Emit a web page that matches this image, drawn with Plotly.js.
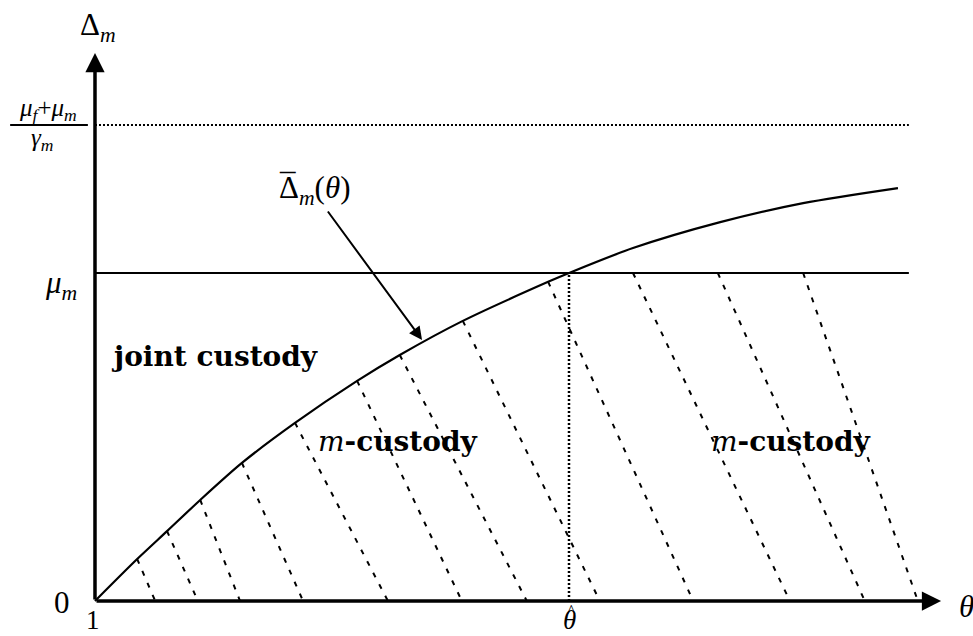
<!DOCTYPE html>
<html>
<head>
<meta charset="utf-8">
<script src="https://cdn.plot.ly/plotly-3.0.1.min.js"></script>
<style>html,body{margin:0;padding:0;background:#fff;}#chart{width:973px;height:636px;}</style>
</head>
<body>
<div id="chart"></div>
<script>
// ---- data (theta on x, Delta_m on y; theta-hat = 2, mu_m = 1) ----
const thetaOrigin = 1;
const thetaHat = 2;
const muM = 1;
const upperBound = 1.451;          // (mu_f + mu_m) / gamma_m
const thetaEnd = 2.717;            // right end of the horizontal lines
const xAxisTip = 2.785;
const yAxisTip = 1.671;

// curve  Delta-bar_m(theta)
const curveTheta = [1.000, 1.089, 1.152, 1.222, 1.310, 1.422, 1.553, 1.643, 1.776, 1.956, 2.000, 2.135, 2.319, 2.494, 2.694];
const curveDelta = [0.000, 0.128, 0.213, 0.308, 0.421, 0.543, 0.671, 0.750, 0.854, 0.973, 1.000, 1.076, 1.155, 1.213, 1.259];

// hatching lines of the m-custody region
const hatchTopTheta    = [1.089, 1.152, 1.222, 1.310, 1.422, 1.553, 1.643, 1.776, 1.956, 2.135, 2.314, 2.494];
const hatchTopDelta    = [0.128, 0.213, 0.308, 0.421, 0.543, 0.671, 0.750, 0.854, 0.973, 1.000, 1.000, 1.000];
const hatchBottomTheta = [1.127, 1.217, 1.306, 1.439, 1.618, 1.774, 1.911, 2.065, 2.262, 2.466, 2.624, 2.736];

// label texts
const labelJoint = '<b>joint custody</b>';
const labelM = '<i>m</i><b>-custody</b>';
const labelCurve = 'Δ<sub><i>m</i></sub>(<i>θ</i>)';

const math = {family: 'Liberation Serif', size: 31, color: '#000'};
const low = {family: 'Liberation Serif', size: 27, color: '#000'};
const small = {family: 'Liberation Serif', size: 25, color: '#000'};
const hat = {family: 'Liberation Serif', size: 18, color: '#000'};
const bold = {family: 'DejaVu Serif', size: 28, color: '#000'};

const traces = [];
// hatch lines
for (let i = 0; i < hatchTopTheta.length; i++) {
  traces.push({x: [hatchTopTheta[i], hatchBottomTheta[i]], y: [hatchTopDelta[i], 0],
    mode: 'lines', line: {color: '#000', width: 2, dash: '5px,8px'}, hoverinfo: 'skip'});
}
// mu_m line
traces.push({x: [thetaOrigin, thetaEnd], y: [muM, muM], mode: 'lines', line: {color: '#000', width: 2}});
// upper dotted line
traces.push({x: [thetaOrigin, thetaEnd], y: [upperBound, upperBound], mode: 'lines', line: {color: '#000', width: 2, dash: '2px,2px'}});
// theta-hat vertical dotted
traces.push({x: [thetaHat, thetaHat], y: [0, muM], mode: 'lines', line: {color: '#000', width: 2.5, dash: '2px,2px'}});
// curve
traces.push({x: curveTheta, y: curveDelta, mode: 'lines', line: {color: '#000', width: 2.2, shape: 'spline', smoothing: 0.8}});

function txt(x, y, text, font, extra) {
  return Object.assign({x: x, y: y, xref: 'x', yref: 'y', text: text, showarrow: false, font: font}, extra || {});
}

const annotations = [
  // axes with arrowheads
  {x: xAxisTip, y: 0, ax: thetaOrigin, ay: 0, xref: 'x', yref: 'y', axref: 'x', ayref: 'y', text: '',
   showarrow: true, arrowhead: 2, arrowsize: 1.1, arrowwidth: 3.5, arrowcolor: '#000', standoff: 0},
  {x: thetaOrigin, y: yAxisTip, ax: thetaOrigin, ay: 0, xref: 'x', yref: 'y', axref: 'x', ayref: 'y', text: '',
   showarrow: true, arrowhead: 2, arrowsize: 1.1, arrowwidth: 3.5, arrowcolor: '#000', standoff: 0},
  // pointer to the curve
  {x: 1.690, y: 0.796, ax: 1.489, ay: 1.192, xref: 'x', yref: 'y', axref: 'x', ayref: 'y', text: '',
   showarrow: true, arrowhead: 2, arrowsize: 1.3, arrowwidth: 2, arrowcolor: '#000', standoff: 0},
  txt(1.384, 1.253, labelCurve, math, {xanchor: 'left'}),
  txt(1.406, 1.266, '¯', math),
  txt(1.006, 1.75, 'Δ<sub><i>m</i></sub>', math),
  txt(0.901, 1.499, '<i>μ</i><sub><i>f</i></sub>+<i>μ</i><sub><i>m</i></sub>', small),
  txt(0.890, 1.406, '<i>γ</i><sub><i>m</i></sub>', small),
  txt(0.928, 0.962, '<i>μ</i><sub><i>m</i></sub>', math),
  txt(0.930, -0.004, '0', math),
  txt(0.996, -0.058, '1', low),
  txt(2.002, -0.058, '<i>θ</i>', low),
  txt(2.005, -0.035, '^', hat),
  txt(2.838, -0.016, '<i>θ</i>', math),
  txt(1.252, 0.744, labelJoint, bold),
  txt(1.639, 0.485, labelM, bold),
  txt(2.468, 0.485, labelM, bold)
];

const shapes = [
  // fraction bar of the upper-bound label
  {type: 'line', xref: 'x', yref: 'y', x0: 0.821, x1: 0.985, y0: upperBound, y1: upperBound, line: {color: '#000', width: 2}}
];

const layout = {
  width: 973, height: 636,
  margin: {l: 0, r: 0, t: 0, b: 0},
  paper_bgcolor: '#fff', plot_bgcolor: '#fff',
  showlegend: false,
  xaxis: {range: [0.7996, 2.8523], visible: false, fixedrange: true},
  yaxis: {range: [-0.1067, 1.8323], visible: false, fixedrange: true},
  annotations: annotations,
  shapes: shapes
};

Plotly.newPlot('chart', traces, layout, {staticPlot: true, displayModeBar: false});
</script>
</body>
</html>
